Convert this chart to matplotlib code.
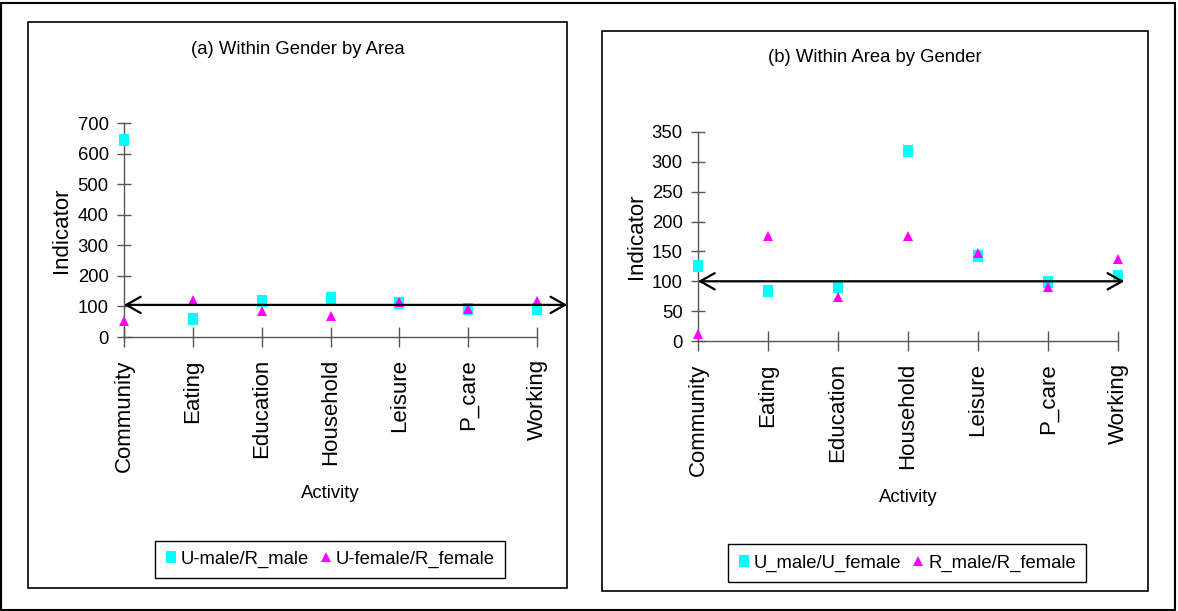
import matplotlib
matplotlib.use("Agg")
import matplotlib.pyplot as plt
from matplotlib.patches import Rectangle

plt.rcParams['font.family'] = ['Liberation Sans', 'DejaVu Sans']

W, H = 1178, 611

# --- data ---
activities = ["Community", "Eating", "Education", "Household", "Leisure", "P_care", "Working"]

# (a) Within Gender by Area
a_male = [646, 58, 117, 128, 111, 93, 93]        # U-male/R_male
a_female = [52, 122, 85, 70, 115, 93, 118]       # U-female/R_female
a_yticks = [0, 100, 200, 300, 400, 500, 600, 700]
a_ref = 105
a_arrow_end = 6.44

# (b) Within Area by Gender
b_male = [125, 83, 91, 319, 143, 98, 109]        # U_male/U_female
b_female = [11, 176, 74, 176, 147, 91, 137]      # R_male/R_female
b_yticks = [0, 50, 100, 150, 200, 250, 300, 350]
b_ref = 100
b_arrow_end = 6.09

SQUARE = [(-5, -6), (5, -6), (5, 6), (-5, 6), (-5, -6)]  # slightly tall square like Excel
AXIS_GREY = '#555555'
FS = 13.3


def px_box(x0, y0, x1, y1):
    # pixel box (top-left origin) -> figure fraction [left, bottom, width, height]
    return [x0 / W, 1 - y1 / H, (x1 - x0) / W, (y1 - y0) / H]


def draw_panel(fig, box, panel_box, title, title_xy, male, female, yticks, ref, arrow_end,
               labels, legend_xy, xlabel_y, ylabel_x):
    # panel frame
    l, b, w, h = px_box(*panel_box)
    fig.patches.append(Rectangle((l, b), w, h, transform=fig.transFigure, fill=False,
                                 edgecolor='black', linewidth=1.2, zorder=0))
    fig.text(title_xy[0] / W, 1 - title_xy[1] / H, title, ha='center', va='center', fontsize=FS)

    ax = fig.add_axes(px_box(*box))
    x = range(len(activities))
    ax.plot(x, male, linestyle='none', marker=SQUARE, markersize=8.6, color='#00FFFF',
            markeredgewidth=0, clip_on=False, zorder=3, label=labels[0])
    ax.plot(x, female, linestyle='none', marker='^', markersize=7.4, color='#FF00FF',
            markeredgewidth=0, clip_on=False, zorder=4, label=labels[1])

    ax.annotate('', xy=(arrow_end, ref), xytext=(0, ref), xycoords='data',
                arrowprops=dict(arrowstyle='<->,head_length=0.8,head_width=0.45', color='black',
                                lw=1.6, shrinkA=0, shrinkB=0, mutation_scale=13),
                annotation_clip=False, zorder=6)

    ax.set_xlim(0, len(activities) - 1)
    ax.set_ylim(yticks[0], yticks[-1])
    ax.set_yticks(yticks)
    ax.set_xticks(list(x))
    ax.set_xticklabels(activities, rotation=90, fontsize=16)
    ax.tick_params(axis='y', direction='inout', length=10, width=1, color=AXIS_GREY,
                   labelsize=FS, pad=6)
    ax.tick_params(axis='x', direction='inout', length=14, width=1, color=AXIS_GREY, pad=9)

    for side in ['top', 'right']:
        ax.spines[side].set_visible(False)
    for side in ['left', 'bottom']:
        ax.spines[side].set_color(AXIS_GREY)
        ax.spines[side].set_linewidth(1)

    ax.set_xlabel('Activity', fontsize=FS, va='center')
    ax.xaxis.set_label_coords(0.5, xlabel_y)
    ax.set_ylabel('Indicator', fontsize=16, va='center')
    ax.yaxis.set_label_coords(ylabel_x, 0.5)

    leg = ax.legend(loc='center', bbox_to_anchor=(legend_xy[0] / W, 1 - legend_xy[1] / H),
                    bbox_transform=fig.transFigure, ncol=2, fontsize=FS, handlelength=0.6,
                    handletextpad=0.25, columnspacing=0.6, borderpad=0.55, fancybox=False,
                    framealpha=1, edgecolor='black')
    leg.get_frame().set_linewidth(1)
    return ax


fig = plt.figure(figsize=(W / 100, H / 100), dpi=100)

# outer frame
fig.patches.append(Rectangle((1 / W, 1.5 / H), 1174 / W, 607 / H, transform=fig.transFigure,
                             fill=False, edgecolor='black', linewidth=1.5))

draw_panel(fig, (124, 123, 537, 337), (28, 22, 567, 588), '(a) Within Gender by Area', (297.5, 49),
           a_male, a_female, a_yticks, a_ref, a_arrow_end,
           ['U-male/R_male', 'U-female/R_female'], (330, 559.5), -0.729, -0.1525)

draw_panel(fig, (698, 132, 1118, 341), (602, 31, 1148, 591), '(b) Within Area by Gender', (875, 58),
           b_male, b_female, b_yticks, b_ref, b_arrow_end,
           ['U_male/U_female', 'R_male/R_female'], (907, 563), -0.749, -0.1476)

fig.savefig('out.png', dpi=100)
